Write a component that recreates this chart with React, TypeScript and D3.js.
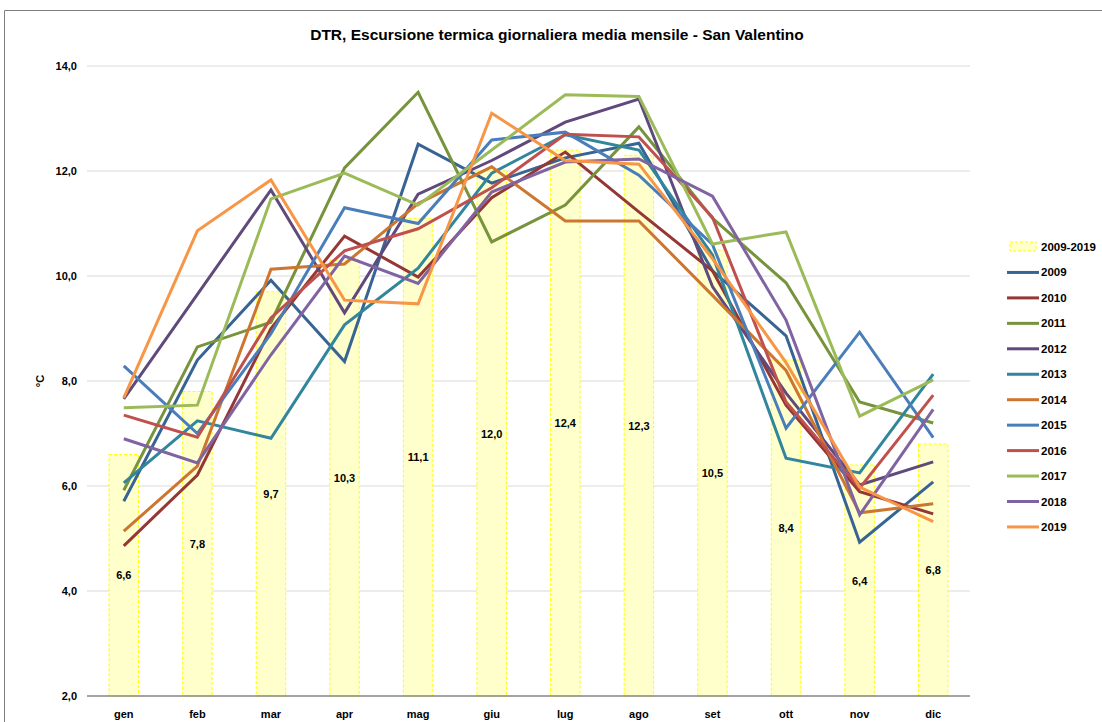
import React, { useEffect } from "react";
import * as d3 from "d3";

const months = ["gen", "feb", "mar", "apr", "mag", "giu", "lug", "ago", "set", "ott", "nov", "dic"];
const average = [6.6, 7.8, 9.7, 10.3, 11.1, 12.0, 12.4, 12.3, 10.5, 8.4, 6.4, 6.8];
const yTicks = [2, 4, 6, 8, 10, 12, 14];

const y2009 = [5.71, 8.4, 9.92, 8.37, 12.51, 11.77, 12.25, 12.53, 10.1, 8.86, 4.93, 6.08];
const y2010 = [4.86, 6.21, 9.0, 10.76, 9.98, 11.49, 12.36, 11.22, 10.1, 7.54, 5.89, 5.47];
const y2011 = [5.92, 8.65, 9.12, 12.06, 13.5, 10.65, 11.35, 12.84, 11.1, 9.87, 7.6, 7.2];
const y2012 = [7.66, 9.65, 11.64, 9.3, 11.56, 12.2, 12.93, 13.37, 9.8, 7.77, 6.02, 6.46];
const y2013 = [6.06, 7.24, 6.91, 9.07, 10.15, 11.96, 12.69, 12.4, 10.4, 6.53, 6.25, 8.13];
const y2014 = [5.14, 6.38, 10.13, 10.23, 11.38, 12.08, 11.05, 11.05, 9.63, 8.2, 5.49, 5.66];
const y2015 = [8.29, 7.0, 8.9, 11.3, 11.0, 12.59, 12.74, 11.92, 10.6, 7.1, 8.93, 6.92];
const y2016 = [7.35, 6.93, 9.2, 10.48, 10.9, 11.68, 12.7, 12.65, 11.12, 7.6, 5.96, 7.73];
const y2017 = [7.49, 7.54, 11.47, 11.96, 11.35, 12.4, 13.45, 13.42, 10.61, 10.84, 7.33, 8.02];
const y2018 = [6.9, 6.44, 8.5, 10.38, 9.86, 11.6, 12.17, 12.23, 11.52, 9.16, 5.45, 7.46];
const y2019 = [7.68, 10.86, 11.83, 9.54, 9.47, 13.1, 12.2, 12.13, 10.33, 8.35, 5.98, 5.32];

const seriesNames = ["2009", "2010", "2011", "2012", "2013", "2014", "2015", "2016", "2017", "2018", "2019"];
const seriesValues = [y2009, y2010, y2011, y2012, y2013, y2014, y2015, y2016, y2017, y2018, y2019];
const seriesColors = [
  "#386494", "#953735", "#77933C", "#604A7B", "#31859C", "#CC7630",
  "#4A7EBB", "#C0504D", "#9BBB59", "#8064A2", "#F79646",
];

const FONT = "'Liberation Sans', Arial, sans-serif";

export default function App() {
  useEffect(() => {
    document.body.style.margin = "0";
  }, []);

  const W = 1102;
  const H = 722;
  const x = d3.scaleBand<string>().domain(months).range([87, 970]);
  const y = d3.scaleLinear().domain([2, 14]).range([696, 66]);
  const bw = x.bandwidth();
  const barW = bw * 0.4;
  const fmt = (v: number) => d3.format(".1f")(v).replace(".", ",");
  const cx = (m: string) => (x(m) as number) + bw / 2;

  const line = d3
    .line<number>()
    .x((_, i) => cx(months[i]))
    .y((v) => y(v));

  const legendNames = ["2009-2019", ...seriesNames];
  const legendY = (i: number) => 247 + i * 25.45;

  return (
    <svg width={W} height={H} style={{ display: "block" }} fontFamily={FONT}>
      <rect x={0} y={0} width={W} height={H} fill="#fff" />
      <line x1={4.5} y1={10.5} x2={W} y2={10.5} stroke="#7f7f7f" strokeWidth={1} />
      <line x1={4.5} y1={10.5} x2={4.5} y2={H} stroke="#7f7f7f" strokeWidth={1} />

      <text x={557} y={40} textAnchor="middle" fontSize={15.5} fontWeight="bold" fill="#000">
        DTR, Escursione termica giornaliera media mensile - San Valentino
      </text>

      {yTicks.slice(1).map((t) => (
        <line key={"g" + t} x1={87} x2={970} y1={y(t)} y2={y(t)} stroke="#D9D9D9" strokeWidth={1.2} />
      ))}

      {average.map((v, i) => (
        <rect
          key={"b" + i}
          x={cx(months[i]) - barW / 2}
          y={y(v)}
          width={barW}
          height={y(2) - y(v)}
          fill="#FFFFCC"
          stroke="#FFFF00"
          strokeWidth={1}
          strokeDasharray="3,2"
        />
      ))}

      <line x1={87} x2={970} y1={y(2)} y2={y(2)} stroke="#868686" strokeWidth={1.5} />

      {average.map((v, i) => (
        <text
          key={"bl" + i}
          x={cx(months[i])}
          y={(y(v) + y(2)) / 2 + 4}
          textAnchor="middle"
          fontSize={11}
          fontWeight="bold"
          fill="#000"
        >
          {fmt(v)}
        </text>
      ))}

      {seriesValues.map((vals, s) => (
        <path
          key={"l" + s}
          d={line(vals) as string}
          fill="none"
          stroke={seriesColors[s]}
          strokeWidth={3}
          strokeLinejoin="miter"
          strokeLinecap="butt"
        />
      ))}

      {yTicks.map((t) => (
        <text key={"yt" + t} x={77} y={y(t) + 4} textAnchor="end" fontSize={11} fontWeight="bold" fill="#000">
          {fmt(t)}
        </text>
      ))}

      {months.map((m) => (
        <text key={"xt" + m} x={cx(m)} y={718} textAnchor="middle" fontSize={11} fontWeight="bold" fill="#000">
          {m}
        </text>
      ))}

      <text
        transform={`translate(44,${y(8)}) rotate(-90)`}
        textAnchor="middle"
        fontSize={11}
        fontWeight="bold"
        fill="#000"
      >
        °C
      </text>

      {legendNames.map((n, i) => (
        <g key={"lg" + n}>
          {i === 0 ? (
            <rect
              x={1010}
              y={legendY(i) - 5}
              width={26}
              height={9}
              fill="#FFFFCC"
              stroke="#FFFF00"
              strokeWidth={1}
              strokeDasharray="3,2"
            />
          ) : (
            <line
              x1={1007}
              x2={1039}
              y1={legendY(i)}
              y2={legendY(i)}
              stroke={seriesColors[i - 1]}
              strokeWidth={3}
            />
          )}
          <text x={1041} y={legendY(i) + 4} fontSize={11.5} fontWeight="bold" fill="#000">
            {n}
          </text>
        </g>
      ))}
    </svg>
  );
}
